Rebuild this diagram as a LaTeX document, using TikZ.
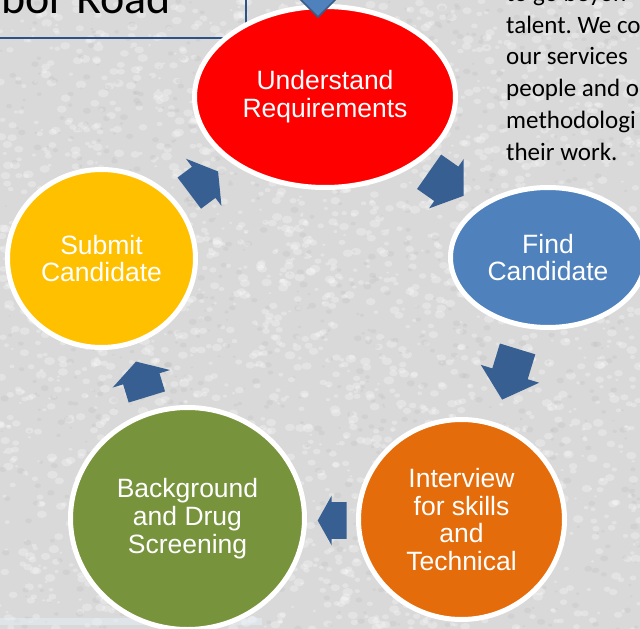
\documentclass[tikz,border=0pt]{standalone}
\usepackage{fontspec}
\setmainfont{Liberation Sans}
\newfontfamily\bodyfont{Carlito}
\usetikzlibrary{shapes.geometric}
\definecolor{bgbase}{HTML}{D9D9D9}
\definecolor{arrowblue}{HTML}{375F92}
\definecolor{boxblue}{HTML}{2B5388}
\definecolor{cred}{HTML}{FF0000}
\definecolor{cyellow}{HTML}{FFC000}
\definecolor{cblue}{HTML}{4F81BD}
\definecolor{cblueline}{HTML}{385D8A}
\definecolor{cgreen}{HTML}{77933C}
\definecolor{corange}{HTML}{E46C0A}
\definecolor{paleblue}{HTML}{E4EFF6}
\newcommand\cycarrow[7]{%
  \fill[arrowblue, shift={(#1,#2)}, rotate=#3]
    (-#4,-#5) -- (0,-#5) -- (0,-#7) -- (#6,0) -- (0,#7) -- (0,#5) -- (-#4,#5) -- cycle;}
\tikzset{
  stage/.style={ellipse, draw=white, line width=5pt, inner sep=0pt,
    text=white, align=center,
    font=\fontsize{26.5}{27.8}\selectfont},
  paraline/.style={anchor=base west, inner sep=0pt,
    font=\bodyfont\fontsize{25}{30}\selectfont\frenchspacing, text=black}
}
\begin{document}
\begin{tikzpicture}[x=1pt,y=-1pt]
\useasboundingbox (0,0) rectangle (640,629);
\clip (0,0) rectangle (640,629);
% textured background
\fill[bgbase] (0,0) rectangle (640,629);
\pgfmathsetseed{7}
\foreach \i in {1,...,2600}{
  \pgfmathsetmacro\px{rnd*640}
  \pgfmathsetmacro\py{rnd*629}
  \pgfmathsetmacro\pr{1.5+rnd*4}
  \fill[white,opacity=0.28] (\px,\py) ellipse ({\pr} and {\pr*0.75});
}
\foreach \i in {1,...,1000}{
  \pgfmathsetmacro\px{rnd*640}
  \pgfmathsetmacro\py{rnd*629}
  \pgfmathsetmacro\pr{1.2+rnd*3}
  \fill[black!30,opacity=0.18] (\px,\py) ellipse ({\pr} and {\pr*0.75});
}
\fill[paleblue,opacity=0.5] (0,618) rectangle (262,625);
% top-left title box
\draw[boxblue, line width=2pt] (-10,-10) rectangle (246,38);
\node[anchor=base west, inner sep=0pt, font=\bodyfont\fontsize{46}{50}\selectfont] (title) at (1,13.5) {bor Road};
% right paragraph
\node[paraline] (p0) at (506,1.5) {to go beyon};
\node[paraline] (p1) at (506,33.2) {talent. We co};
\node[paraline] (p2) at (506,64.9) {our services};
\node[paraline] (p3) at (506,96.6) {people and o};
\node[paraline] (p4) at (506,128.3) {methodologi};
\node[paraline] (p5) at (506,160) {their work.};
% stages
\node[stage, fill=cred, minimum width=261pt, minimum height=181pt] (understand) at (325,97) {Understand\\Requirements};
\node[stage, fill=cyellow, minimum width=188pt, minimum height=178pt] (submit) at (101.5,258.5) {Submit\\Candidate};
\node[stage, fill=cblue, minimum width=195pt, minimum height=140pt] (find) at (548,257.5) {Find\\Candidate};
\node[stage, fill=cgreen, minimum width=234pt, minimum height=222pt] (background) at (187.5,518.5) {Background\\and Drug\\Screening};
\node[stage, fill=corange, minimum width=206pt, minimum height=200pt] (interview) at (461.5,519.5) {Interview\\for skills\\and\\Technical};
% incoming arrow tip at top
\draw[fill=cblue, draw=cblueline, line width=1.5pt, line join=miter] (297,-4) -- (339,-4) -- (318,17) -- cycle;
% cycle arrows
\cycarrow{203.7}{182.3}{37}{18}{19.5}{18}{29.5}
\cycarrow{446.3}{183.8}{-35}{21}{21}{21}{30}
\cycarrow{510}{373.8}{-107}{26}{18.5}{27}{30.5}
\cycarrow{331.7}{520.5}{180}{15}{18.3}{14}{25}
\cycarrow{141.3}{378.8}{107}{19}{19}{18}{30}
\end{tikzpicture}
\end{document}
